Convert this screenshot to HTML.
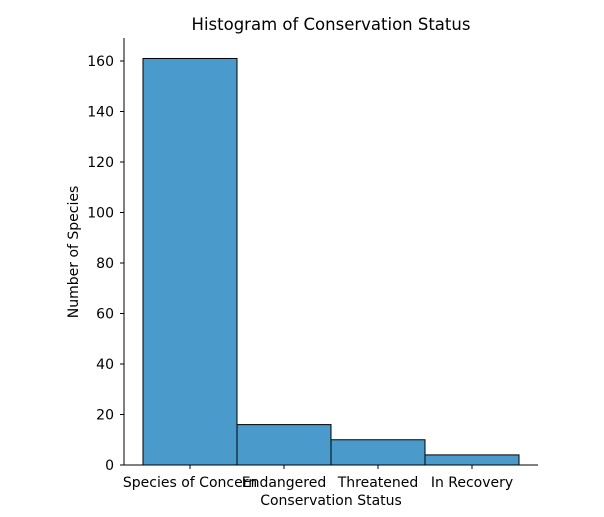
<!DOCTYPE html>
<html><head><meta charset="utf-8"><style>
body{margin:0;background:#fff;}
svg text{font-family:"DejaVu Sans","Liberation Sans",sans-serif;fill:#000;}
</style></head><body>
<svg id="chart" width="604" height="512" xmlns="http://www.w3.org/2000/svg">
<text x="331" y="30" font-size="16.5" text-anchor="middle">Histogram of Conservation Status</text>
<g id="bars"></g>
<g id="axes"></g>
<text x="331" y="505" font-size="14" text-anchor="middle">Conservation Status</text>
<text transform="translate(78,252) rotate(-90)" font-size="14" text-anchor="middle">Number of Species</text>
</svg>
<script>
const categories = ["Species of Concern","Endangered","Threatened","In Recovery"];
const counts = [161, 16, 10, 4];
const yTicks = [0,20,40,60,80,100,120,140,160];

const NS="http://www.w3.org/2000/svg";
const x0=143, bw=94, yBase=465, pxPerUnit=(465-61)/160;
const xPos=i=>x0+i*bw;
const yPos=v=>yBase-v*pxPerUnit;
function mk(tag,attrs,parent){const e=document.createElementNS(NS,tag);for(const k in attrs)e.setAttribute(k,attrs[k]);parent.appendChild(e);return e;}
const bars=document.getElementById('bars'), axes=document.getElementById('axes');
counts.forEach((c,i)=>{
  const r=mk('rect',{x:xPos(i),y:yPos(c),width:bw,height:yBase-yPos(c),fill:'#4a9acb',stroke:'#000','stroke-width':1},bars);
  
  
  const cx=xPos(i)+bw/2;
  mk('line',{x1:cx,x2:cx,y1:yBase,y2:yBase+4,stroke:'#000'},axes);
  const t=mk('text',{x:cx,y:yBase+22,'font-size':14,'text-anchor':'middle'},axes);
  t.textContent=categories[i];
  
  
});
yTicks.forEach(v=>{
  const y=yPos(v);
  mk('line',{x1:120,x2:124,y1:y,y2:y,stroke:'#000'},axes);
  const t=mk('text',{x:114,y:y+5,'font-size':14,'text-anchor':'end'},axes);
  t.textContent=v;
  
  
});
const ya=mk('line',{x1:124,x2:124,y1:38,y2:yBase,stroke:'#000'},axes);


const xa=mk('line',{x1:124,x2:538,y1:yBase,y2:yBase,stroke:'#000'},axes);


</script>
</body></html>
